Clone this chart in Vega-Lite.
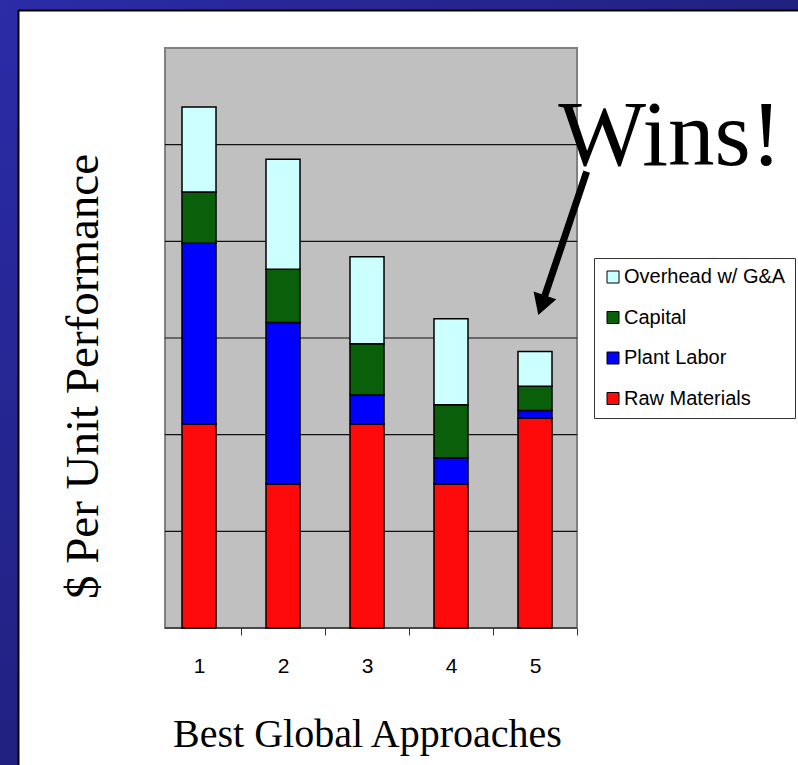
{
  "$schema": "https://vega.github.io/schema/vega-lite/v6.json",
  "autosize": "none",
  "width": 412,
  "height": 580,
  "padding": {"left": 165, "top": 48, "right": 221, "bottom": 137},
  "background": "white",
  "config": {"view": {"fill": "#c0c0c0", "stroke": "#808080", "strokeWidth": 2}},
  "datasets": {
    "costs": [
      {"approach": "1", "series": "Raw Materials", "rank": 1, "value": 2.11},
      {"approach": "1", "series": "Plant Labor", "rank": 2, "value": 1.87},
      {"approach": "1", "series": "Capital", "rank": 3, "value": 0.53},
      {"approach": "1", "series": "Overhead w/ G&A", "rank": 4, "value": 0.88},
      {"approach": "2", "series": "Raw Materials", "rank": 1, "value": 1.49},
      {"approach": "2", "series": "Plant Labor", "rank": 2, "value": 1.67},
      {"approach": "2", "series": "Capital", "rank": 3, "value": 0.55},
      {"approach": "2", "series": "Overhead w/ G&A", "rank": 4, "value": 1.14},
      {"approach": "3", "series": "Raw Materials", "rank": 1, "value": 2.11},
      {"approach": "3", "series": "Plant Labor", "rank": 2, "value": 0.30},
      {"approach": "3", "series": "Capital", "rank": 3, "value": 0.53},
      {"approach": "3", "series": "Overhead w/ G&A", "rank": 4, "value": 0.90},
      {"approach": "4", "series": "Raw Materials", "rank": 1, "value": 1.49},
      {"approach": "4", "series": "Plant Labor", "rank": 2, "value": 0.27},
      {"approach": "4", "series": "Capital", "rank": 3, "value": 0.55},
      {"approach": "4", "series": "Overhead w/ G&A", "rank": 4, "value": 0.89},
      {"approach": "5", "series": "Raw Materials", "rank": 1, "value": 2.17},
      {"approach": "5", "series": "Plant Labor", "rank": 2, "value": 0.08},
      {"approach": "5", "series": "Capital", "rank": 3, "value": 0.25},
      {"approach": "5", "series": "Overhead w/ G&A", "rank": 4, "value": 0.36}
    ],
    "grid": [{"v": 0}, {"v": 1}, {"v": 2}, {"v": 3}, {"v": 4}, {"v": 5}],
    "note": [{"label": "Wins!"}]
  },
  "resolve": {
    "scale": {"x": "independent", "y": "independent"},
    "axis": {"x": "independent", "y": "independent"}
  },
  "layer": [
    {
      "data": {"values": [{}]},
      "mark": {"type": "rect", "fill": {"gradient": "linear", "x1": 0, "y1": 0, "x2": 0, "y2": 1, "stops": [{"offset": 0, "color": "#2c2caa"}, {"offset": 1, "color": "#20207e"}]}},
      "encoding": {
        "x": {"datum": -2, "type": "quantitative", "scale": {"domain": [0.5, 5.5], "range": [-8, 412], "nice": false, "zero": false}, "axis": null},
        "x2": {"datum": -1.155},
        "y": {"datum": 7, "type": "quantitative", "scale": {"domain": [0, 6], "nice": false, "zero": false}, "axis": null},
        "y2": {"datum": -2}
      }
    },
    {
      "data": {"values": [{}]},
      "mark": {"type": "rect", "fill": {"gradient": "linear", "x1": 0, "y1": 0, "x2": 1, "y2": 0, "stops": [{"offset": 0, "color": "#2c2caa"}, {"offset": 1, "color": "#20207c"}]}},
      "encoding": {
        "x": {"datum": -2, "type": "quantitative", "scale": {"domain": [0.5, 5.5], "range": [-8, 412], "nice": false, "zero": false}, "axis": null},
        "x2": {"datum": 9},
        "y": {"datum": 7, "type": "quantitative", "scale": {"domain": [0, 6], "nice": false, "zero": false}, "axis": null},
        "y2": {"datum": 6.393}
      }
    },
    {
      "data": {"values": [{}]},
      "mark": {"type": "rule", "color": "black", "strokeWidth": 2},
      "encoding": {
        "x": {"datum": -1.149, "type": "quantitative", "scale": {"domain": [0.5, 5.5], "range": [-8, 412], "nice": false, "zero": false}, "axis": null},
        "y": {"datum": 6.393, "type": "quantitative", "scale": {"domain": [0, 6], "nice": false, "zero": false}, "axis": null},
        "y2": {"datum": -2}
      }
    },
    {
      "data": {"values": [{}]},
      "mark": {"type": "rule", "color": "black", "strokeWidth": 2},
      "encoding": {
        "x": {"datum": -1.155, "type": "quantitative", "scale": {"domain": [0.5, 5.5], "range": [-8, 412], "nice": false, "zero": false}, "axis": null},
        "x2": {"datum": 9},
        "y": {"datum": 6.388, "type": "quantitative", "scale": {"domain": [0, 6], "nice": false, "zero": false}, "axis": null}
      }
    },
    {
      "data": {"name": "grid"},
      "mark": {"type": "rule", "color": "#111111", "strokeWidth": 1.2},
      "encoding": {
        "x": {"datum": 0.595, "type": "quantitative", "scale": {"domain": [0.5, 5.5], "range": [-8, 412], "nice": false, "zero": false}, "axis": null},
        "x2": {"datum": 5.5},
        "y": {"field": "v", "type": "quantitative", "scale": {"domain": [0, 6], "nice": false, "zero": false}, "axis": null}
      }
    },
    {
      "data": {"name": "costs"},
      "mark": {"type": "bar", "stroke": "black", "strokeWidth": 1.5},
      "encoding": {
        "x": {
          "field": "approach", "type": "nominal",
          "scale": {"range": [-8, 412], "paddingInner": 0.595, "paddingOuter": 0.2976},
          "axis": {
            "labelAngle": 0, "labelFont": "Liberation Sans", "labelFontSize": 21, "labelColor": "black",
            "labelPadding": 20, "tickOffset": 42, "labelOffset": -42, "tickSize": 7, "tickColor": "#333333", "tickWidth": 1,
            "domain": false,
            "title": "Best Global Approaches", "titleFont": "Liberation Serif", "titleFontSize": 40,
            "titleFontWeight": "normal", "titleColor": "black", "titleBaseline": "alphabetic", "titleY": 118
          }
        },
        "y": {
          "field": "value", "type": "quantitative", "stack": "zero",
          "scale": {"domain": [0, 6], "nice": false},
          "axis": {
            "grid": false, "domain": false, "ticks": false, "labels": false,
            "title": "$ Per Unit Performance", "titleFont": "Liberation Serif", "titleFontSize": 47,
            "titleFontWeight": "normal", "titleColor": "black", "titleBaseline": "alphabetic",
            "titleAngle": -90, "titleAlign": "center", "titleX": -68, "titleY": 328
          }
        },
        "color": {
          "field": "series", "type": "nominal",
          "scale": {
            "domain": ["Overhead w/ G&A", "Capital", "Plant Labor", "Raw Materials"],
            "range": ["#ccffff", "#0a600a", "#0000ff", "#ff0a0a"]
          },
          "legend": {
            "title": null, "orient": "none", "legendX": 429, "legendY": 210, "direction": "vertical",
            "fillColor": "white", "strokeColor": "#333333", "padding": 9,
            "symbolType": "square", "symbolSize": 144, "symbolStrokeColor": "black", "symbolStrokeWidth": 1,
            "labelFont": "Liberation Sans", "labelFontSize": 20, "labelColor": "black", "labelOffset": 1,
            "rowPadding": 20.5, "labelLimit": 300
          }
        },
        "order": {"field": "rank", "type": "quantitative"}
      }
    },
    {
      "data": {"values": [{}]},
      "mark": {"type": "rule", "color": "black", "strokeWidth": 7, "strokeCap": "butt"},
      "encoding": {
        "x": {"datum": 5.615, "type": "quantitative", "scale": {"domain": [0.5, 5.5], "range": [-8, 412], "nice": false, "zero": false}, "axis": null},
        "x2": {"datum": 5.079},
        "y": {"datum": 4.72, "type": "quantitative", "scale": {"domain": [0, 6], "nice": false, "zero": false}, "axis": null},
        "y2": {"datum": 3.339}
      }
    },
    {
      "data": {"values": [{}]},
      "mark": {"type": "point", "shape": "triangle-up", "filled": true, "color": "black", "opacity": 1, "size": 576, "angle": 198.6},
      "encoding": {
        "x": {"datum": 5.079, "type": "quantitative", "scale": {"domain": [0.5, 5.5], "range": [-8, 412], "nice": false, "zero": false}, "axis": null},
        "y": {"datum": 3.339, "type": "quantitative", "scale": {"domain": [0, 6], "nice": false, "zero": false}, "axis": null}
      }
    },
    {
      "data": {"name": "note"},
      "mark": {"type": "text", "font": "Liberation Serif", "fontSize": 93, "align": "center", "baseline": "alphabetic", "color": "black"},
      "encoding": {
        "text": {"field": "label"},
        "x": {"datum": 6.607, "type": "quantitative", "scale": {"domain": [0.5, 5.5], "range": [-8, 412], "nice": false, "zero": false}, "axis": null},
        "y": {"datum": 4.79, "type": "quantitative", "scale": {"domain": [0, 6], "nice": false, "zero": false}, "axis": null}
      }
    }
  ]
}
